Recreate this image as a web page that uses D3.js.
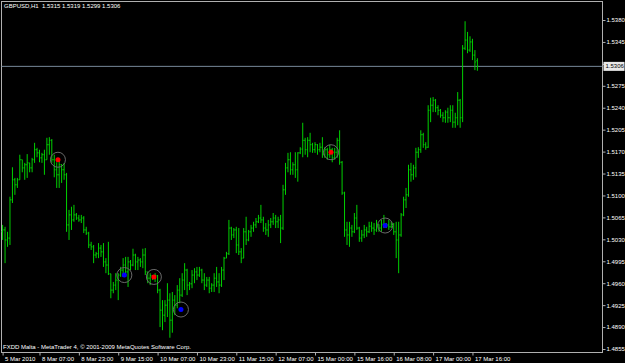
<!DOCTYPE html>
<html>
  <head>
    <meta charset="utf-8">
    <title>GBPUSD,H1</title>
    <script src="https://d3js.org/d3.v7.min.js"></script>
    <style>
      body { margin: 0; background: #000; }
      svg { display: block; }
      text { font-family: "Liberation Sans", Arial, sans-serif; font-size: 6px; fill: #fff; white-space: pre; }
    </style>
  </head>
  <body>
    <div id="graph"></div>
  </body>

  <script>
    const symbol = "GBPUSD,H1";
    const footer = "FXDD Malta - MetaTrader 4, \u00a9 2001-2009 MetaQuotes Software Corp.";

    // H1 bars, 5 Mar 2010 16:00 .. 17 Mar 2010 18:00 : [open, high, low, close]
    const bars = [
      [1.5042,1.5053,1.5029,1.5045],[1.5045,1.5050,1.4992,1.5029],[1.5029,1.5042,1.5018,1.5032],[1.5032,1.5098,1.5021,1.5093],
      [1.5093,1.5145,1.5088,1.5125],[1.5125,1.5128,1.5101,1.5117],[1.5117,1.5128,1.5112,1.5125],[1.5125,1.5165,1.5125,1.5157],
      [1.5157,1.5157,1.5137,1.5144],[1.5144,1.5152,1.5125,1.5149],[1.5149,1.5166,1.5128,1.5152],[1.5152,1.5152,1.5137,1.5144],
      [1.5144,1.5160,1.5137,1.5157],[1.5157,1.5184,1.5152,1.5173],[1.5173,1.5176,1.5161,1.5168],[1.5168,1.5173,1.5153,1.5160],
      [1.5160,1.5168,1.5152,1.5165],[1.5165,1.5173,1.5133,1.5157],[1.5157,1.5192,1.5157,1.5181],[1.5181,1.5193,1.5165,1.5188],
      [1.5188,1.5190,1.5152,1.5157],[1.5157,1.5165,1.5129,1.5141],[1.5141,1.5153,1.5112,1.5133],[1.5133,1.5157,1.5112,1.5149],
      [1.5149,1.5150,1.5120,1.5141],[1.5141,1.5152,1.5125,1.5133],[1.5133,1.5136,1.5042,1.5053],[1.5053,1.5077,1.5029,1.5069],
      [1.5069,1.5082,1.5045,1.5061],[1.5061,1.5085,1.5058,1.5069],[1.5069,1.5072,1.5061,1.5064],[1.5064,1.5069,1.5058,1.5061],
      [1.5061,1.5069,1.5056,1.5064],[1.5064,1.5067,1.5040,1.5045],[1.5045,1.5050,1.5037,1.5040],[1.5040,1.5042,1.5016,1.5021],
      [1.5021,1.5026,1.5013,1.5018],[1.5018,1.5021,1.4992,1.5005],[1.5005,1.5010,1.5000,1.5007],[1.5007,1.5024,1.5000,1.5016],
      [1.5016,1.5021,1.5002,1.5010],[1.5010,1.5024,1.4986,1.4994],[1.4994,1.5000,1.4976,1.4989],[1.4989,1.5026,1.4973,1.4975],
      [1.4975,1.4975,1.4936,1.4949],[1.4949,1.4962,1.4944,1.4957],[1.4957,1.4976,1.4949,1.4965],[1.4965,1.4976,1.4933,1.4973],
      [1.4973,1.4986,1.4970,1.4981],[1.4981,1.5000,1.4970,1.4989],[1.4989,1.5002,1.4970,1.4978],[1.4978,1.5002,1.4954,1.4994],
      [1.4994,1.4997,1.4981,1.4989],[1.4989,1.5015,1.4987,1.5005],[1.5005,1.5007,1.4981,1.4994],[1.4994,1.5002,1.4981,1.4997],
      [1.4997,1.5000,1.4986,1.4994],[1.4994,1.5015,1.4984,1.5005],[1.5005,1.5016,1.4973,1.4978],[1.4978,1.4978,1.4960,1.4968],
      [1.4968,1.4976,1.4957,1.4972],[1.4972,1.4973,1.4965,1.4968],[1.4968,1.4976,1.4962,1.4972],[1.4972,1.4973,1.4944,1.4949],
      [1.4949,1.4951,1.4890,1.4917],[1.4917,1.4933,1.4885,1.4909],[1.4909,1.4933,1.4898,1.4925],[1.4925,1.4960,1.4906,1.4933],
      [1.4933,1.4944,1.4873,1.4901],[1.4901,1.4946,1.4881,1.4933],[1.4933,1.4941,1.4909,1.4925],[1.4925,1.4957,1.4920,1.4949],
      [1.4949,1.4968,1.4928,1.4941],[1.4941,1.4976,1.4938,1.4965],[1.4965,1.4992,1.4949,1.4981],[1.4981,1.4983,1.4941,1.4957],
      [1.4957,1.4962,1.4949,1.4959],[1.4959,1.4981,1.4952,1.4973],[1.4973,1.4984,1.4960,1.4978],[1.4978,1.4986,1.4965,1.4973],
      [1.4973,1.4986,1.4970,1.4981],[1.4981,1.4983,1.4960,1.4965],[1.4965,1.4976,1.4949,1.4957],[1.4957,1.4970,1.4954,1.4965],
      [1.4965,1.4970,1.4944,1.4952],[1.4952,1.4960,1.4946,1.4957],[1.4957,1.4976,1.4946,1.4968],[1.4968,1.4986,1.4954,1.4962],
      [1.4962,1.4976,1.4944,1.4957],[1.4957,1.4986,1.4954,1.4981],[1.4981,1.5002,1.4965,1.5000],[1.5000,1.5010,1.5000,1.5007],
      [1.5007,1.5061,1.5005,1.5048],[1.5048,1.5050,1.5029,1.5037],[1.5037,1.5048,1.5032,1.5045],[1.5045,1.5050,1.5008,1.5021],
      [1.5021,1.5048,1.5005,1.5010],[1.5010,1.5016,1.4992,1.5000],[1.5000,1.5048,1.5000,1.5042],[1.5042,1.5066,1.5021,1.5029],
      [1.5029,1.5045,1.5027,1.5042],[1.5042,1.5053,1.5034,1.5048],[1.5048,1.5058,1.5042,1.5053],[1.5053,1.5064,1.5048,1.5058],
      [1.5058,1.5069,1.5056,1.5064],[1.5064,1.5085,1.5056,1.5061],[1.5061,1.5066,1.5042,1.5048],[1.5048,1.5056,1.5037,1.5045],
      [1.5045,1.5061,1.5034,1.5053],[1.5053,1.5064,1.5048,1.5058],[1.5058,1.5072,1.5053,1.5064],[1.5064,1.5069,1.5048,1.5058],
      [1.5058,1.5066,1.5048,1.5061],[1.5061,1.5069,1.5024,1.5048],[1.5048,1.5117,1.5045,1.5109],[1.5109,1.5152,1.5101,1.5144],
      [1.5144,1.5168,1.5137,1.5157],[1.5157,1.5169,1.5133,1.5141],[1.5141,1.5153,1.5133,1.5149],[1.5149,1.5169,1.5128,1.5141],
      [1.5141,1.5169,1.5122,1.5168],[1.5168,1.5177,1.5166,1.5174],[1.5174,1.5216,1.5161,1.5188],[1.5188,1.5192,1.5165,1.5173],
      [1.5173,1.5193,1.5161,1.5188],[1.5188,1.5200,1.5169,1.5181],[1.5181,1.5184,1.5168,1.5173],[1.5173,1.5185,1.5168,1.5181],
      [1.5181,1.5182,1.5165,1.5173],[1.5173,1.5184,1.5169,1.5177],[1.5177,1.5193,1.5160,1.5165],[1.5165,1.5177,1.5160,1.5173],
      [1.5173,1.5176,1.5157,1.5165],[1.5165,1.5181,1.5160,1.5173],[1.5173,1.5176,1.5153,1.5160],[1.5160,1.5176,1.5157,1.5169],
      [1.5169,1.5192,1.5160,1.5188],[1.5188,1.5204,1.5149,1.5153],[1.5153,1.5155,1.5101,1.5104],[1.5104,1.5106,1.5034,1.5045],
      [1.5045,1.5058,1.5021,1.5037],[1.5037,1.5058,1.5018,1.5048],[1.5048,1.5053,1.5034,1.5042],[1.5042,1.5072,1.5040,1.5064],
      [1.5064,1.5085,1.5045,1.5048],[1.5048,1.5050,1.5026,1.5032],[1.5032,1.5045,1.5026,1.5037],[1.5037,1.5053,1.5032,1.5045],
      [1.5045,1.5050,1.5034,1.5042],[1.5042,1.5058,1.5040,1.5051],[1.5051,1.5058,1.5042,1.5048],[1.5048,1.5056,1.5037,1.5045],
      [1.5045,1.5061,1.5042,1.5053],[1.5053,1.5054,1.5042,1.5048],[1.5048,1.5061,1.5042,1.5054],[1.5054,1.5069,1.5048,1.5051],
      [1.5051,1.5056,1.5048,1.5053],[1.5053,1.5061,1.5045,1.5050],[1.5050,1.5058,1.5048,1.5054],[1.5054,1.5056,1.5037,1.5042],
      [1.5042,1.5058,1.5000,1.5029],[1.5029,1.5058,1.4976,1.5037],[1.5037,1.5072,1.5034,1.5069],[1.5069,1.5098,1.5067,1.5093],
      [1.5093,1.5112,1.5080,1.5101],[1.5101,1.5149,1.5098,1.5141],[1.5141,1.5152,1.5122,1.5133],[1.5133,1.5149,1.5125,1.5144],
      [1.5144,1.5176,1.5129,1.5169],[1.5169,1.5177,1.5160,1.5173],[1.5173,1.5204,1.5168,1.5197],[1.5197,1.5200,1.5176,1.5181],
      [1.5181,1.5185,1.5173,1.5177],[1.5177,1.5244,1.5176,1.5236],[1.5236,1.5256,1.5217,1.5244],[1.5244,1.5257,1.5233,1.5252],
      [1.5252,1.5254,1.5233,1.5240],[1.5240,1.5244,1.5228,1.5236],[1.5236,1.5238,1.5224,1.5228],[1.5228,1.5233,1.5217,1.5224],
      [1.5224,1.5236,1.5216,1.5233],[1.5233,1.5240,1.5216,1.5224],[1.5224,1.5244,1.5217,1.5236],[1.5236,1.5244,1.5208,1.5217],
      [1.5217,1.5232,1.5208,1.5224],[1.5224,1.5265,1.5212,1.5252],[1.5252,1.5254,1.5208,1.5224],[1.5224,1.5340,1.5217,1.5335],
      [1.5335,1.5378,1.5332,1.5348],[1.5348,1.5361,1.5327,1.5332],[1.5332,1.5354,1.5329,1.5345],[1.5345,1.5350,1.5316,1.5324],
      [1.5324,1.5332,1.5300,1.5313],[1.5315,1.5319,1.5299,1.5306]
    ];

    // time scale labels (bar index -> text)
    const time_ticks = [0, 15, 31, 47, 63, 79, 95, 111, 127, 143, 159, 175, 191];
    const time_labels = ["5 Mar 2010", "8 Mar 07:00", "8 Mar 23:00", "9 Mar 15:00", "10 Mar 07:00", "10 Mar 23:00",
      "11 Mar 15:00", "12 Mar 07:00", "15 Mar 00:00", "15 Mar 16:00", "16 Mar 08:00", "17 Mar 00:00", "17 Mar 16:00"];

    const price_ticks = [1.5380, 1.5345, 1.5310, 1.5275, 1.5240, 1.5205, 1.5170, 1.5135,
      1.5100, 1.5065, 1.5030, 1.4995, 1.4960, 1.4925, 1.4890, 1.4855];
    const bid = 1.5306;

    // marked turning points (bar index, price, colour)
    const mark_bars = [22.5, 49.5, 61.5, 72.5, 133.5, 155.5];
    const mark_prices = [1.5157, 1.4973, 1.4970, 1.4918, 1.5169, 1.5052];
    const mark_colors = ["#ff0000", "#0000ff", "#ff0000", "#0000ff", "#ff0000", "#0000ff"];

    const width = 625;
    const height = 363;
    const frame = {left: 1.5, top: 1.5, right: 602.5, bottom: 352.5};
    const bar_step = 2.46;
    const bar_color = "#00d000";

    let svg = d3.select("#graph").append("svg")
      .attr("width", width)
      .attr("height", height)
      .style("background", "#000");

    let x = d3.scaleLinear()
      .domain([0, bars.length - 1])
      .range([2.6, 2.6 + bar_step * (bars.length - 1)]);
    let y = d3.scaleLinear()
      .domain([1.4855, 1.5380])
      .range([349, 20]);

    // chart frame
    svg.append("rect")
      .attr("x", frame.left)
      .attr("y", frame.top)
      .attr("width", frame.right - frame.left)
      .attr("height", frame.bottom - frame.top)
      .attr("fill", "none")
      .attr("stroke", "#b0b0b0");

    // price scale on the right; the label under the bid box is left out
    let y_axis = d3.axisRight(y)
      .tickValues(price_ticks)
      .tickSize(3)
      .tickPadding(1)
      .tickFormat(d => Math.abs(d - bid) < 0.0008 ? "" : d3.format(".4f")(d));
    let gy = svg.append("g")
      .attr("transform", `translate(${frame.right},0)`)
      .call(y_axis);
    gy.select(".domain").remove();
    gy.selectAll("line").attr("stroke", "#b0b0b0");
    gy.selectAll("text").attr("fill", "#fff").style("font-size", "6px");

    // time scale at the bottom
    let x_axis = d3.axisBottom(x)
      .tickValues(time_ticks)
      .tickSize(3)
      .tickFormat((d, i) => time_labels[i]);
    let gx = svg.append("g")
      .attr("transform", `translate(0,${frame.bottom})`)
      .call(x_axis);
    gx.select(".domain").remove();
    gx.selectAll("line").attr("stroke", "#b0b0b0");
    gx.selectAll("text")
      .attr("fill", "#fff")
      .attr("text-anchor", "start")
      .attr("x", 2)
      .attr("y", 4)
      .style("font-size", "6px");

    // bid line
    svg.append("line")
      .attr("x1", frame.left)
      .attr("x2", frame.right)
      .attr("y1", y(bid))
      .attr("y2", y(bid))
      .attr("stroke", "#778899");
    svg.append("rect")
      .attr("x", frame.right + 1)
      .attr("y", y(bid) - 4.5)
      .attr("width", 21)
      .attr("height", 9)
      .attr("fill", "#e8e8e8");
    svg.append("text")
      .attr("x", frame.right + 3)
      .attr("y", y(bid))
      .attr("dy", "0.32em")
      .style("fill", "#000")
      .text(d3.format(".4f")(bid));

    // OHLC bars
    let g = svg.append("g")
      .attr("stroke", bar_color)
      .attr("stroke-width", 1);
    g.selectAll(".hl")
      .data(bars)
      .join("line")
      .attr("class", "hl")
      .attr("x1", (d, i) => x(i))
      .attr("x2", (d, i) => x(i))
      .attr("y1", d => y(d[1]))
      .attr("y2", d => y(d[2]));
    g.selectAll(".op")
      .data(bars)
      .join("line")
      .attr("class", "op")
      .attr("x1", (d, i) => x(i) - 1)
      .attr("x2", (d, i) => x(i))
      .attr("y1", d => y(d[0]))
      .attr("y2", d => y(d[0]));
    g.selectAll(".cl")
      .data(bars)
      .join("line")
      .attr("class", "cl")
      .attr("x1", (d, i) => x(i))
      .attr("x2", (d, i) => x(i) + 1)
      .attr("y1", d => y(d[3]))
      .attr("y2", d => y(d[3]));

    // markers
    let marks = svg.append("g").selectAll("g")
      .data(mark_bars)
      .join("g")
      .attr("transform", (d, i) => `translate(${x(d)},${y(mark_prices[i])})`);
    marks.append("circle")
      .attr("r", 7.5)
      .attr("fill", "none")
      .attr("stroke", "#6a6a6a");
    marks.append("circle")
      .attr("r", 2.5)
      .attr("fill", (d, i) => mark_colors[i]);

    // header and footer
    const last = bars[bars.length - 1];
    svg.append("text")
      .attr("x", 4)
      .attr("y", 8)
      .text(symbol + "  " + last.map(d3.format(".4f")).join(" "));
    svg.append("text")
      .attr("x", 3)
      .attr("y", 349)
      .text(footer);
  </script>
</html>
